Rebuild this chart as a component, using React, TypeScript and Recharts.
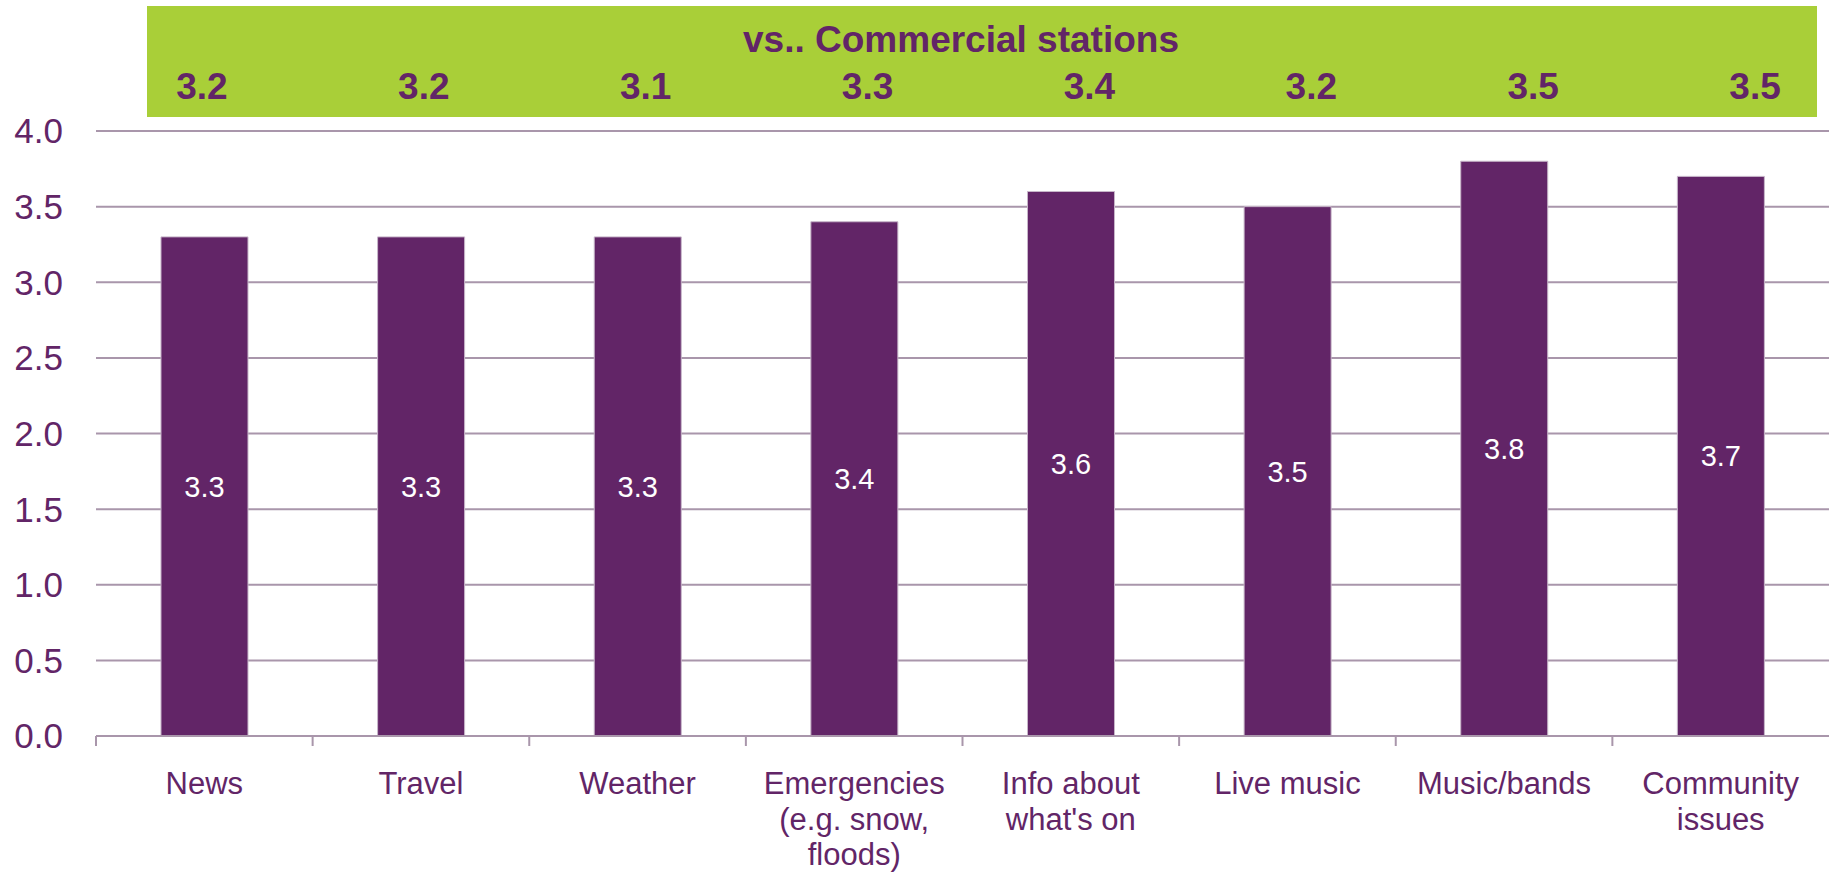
import { BarChart, Bar, XAxis, YAxis, CartesianGrid, LabelList } from "recharts";

const categories = [
  "News",
  "Travel",
  "Weather",
  "Emergencies\n(e.g. snow,\nfloods)",
  "Info about\nwhat's on",
  "Live music",
  "Music/bands",
  "Community\nissues",
];
const localScores = [3.3, 3.3, 3.3, 3.4, 3.6, 3.5, 3.8, 3.7];
const commercialScores = [3.2, 3.2, 3.1, 3.3, 3.4, 3.2, 3.5, 3.5];
const yTicks = [0, 0.5, 1, 1.5, 2, 2.5, 3, 3.5, 4];
const boxTitle = "vs.. Commercial stations";

const PURPLE = "#622567";
const GREEN = "#A9CF38";
const GRID = "#A996AB";
const FONT = "'Liberation Sans', Arial, sans-serif";

const data = categories.map((category, i) => ({
  category,
  local: localScores[i],
  commercial: commercialScores[i],
}));

// bottom axis: wrapped label + tick mark on the left edge of each band
function CategoryTick(props: any) {
  const { x, y, payload } = props;
  const half = payload.offset ?? 108;
  const lines = String(payload.value).split("\n");
  return (
    <g>
      <line x1={x - half} x2={x - half} y1={y} y2={y + 10} stroke={GRID} strokeWidth={2} />
      <text x={x} y={y + 58} textAnchor="middle" fill={PURPLE} fontSize={31} fontFamily={FONT}>
        {lines.map((line, i) => (
          <tspan key={i} x={x} dy={i === 0 ? 0 : 35.5}>
            {line}
          </tspan>
        ))}
      </text>
    </g>
  );
}

// top axis: commercial station score in the green band
function CommercialTick(props: any) {
  const { x, y, index } = props;
  return (
    <text x={x} y={y - 32} textAnchor="middle" fill={PURPLE} fontSize={37} fontWeight="bold" fontFamily={FONT}>
      {commercialScores[index].toFixed(1)}
    </text>
  );
}

export default function App() {
  return (
    <div style={{ position: "absolute", left: 0, top: 0, width: 1829, height: 872, fontFamily: FONT }}>
      <svg width={1829} height={872} style={{ position: "absolute", left: 0, top: 0 }}>
        <rect x={147} y={6} width={1670} height={111} fill={GREEN} />
        <text x={961} y={52} textAnchor="middle" fill={PURPLE} fontSize={37} fontWeight="bold" fontFamily={FONT}>
          {boxTitle}
        </text>
      </svg>
      <div style={{ position: "relative" }}>
        <BarChart
          width={1829}
          height={872}
          data={data}
          margin={{ top: 91, right: 0, bottom: 0, left: 0 }}
          barCategoryGap="30%"
        >
          <CartesianGrid vertical={false} stroke={GRID} strokeWidth={2} yAxisId="y" xAxisId="bottom" />
          <XAxis
            xAxisId="top"
            orientation="top"
            dataKey="category"
            height={40}
            axisLine={false}
            tickLine={false}
            tickSize={0}
            tickMargin={0}
            padding={{ left: -5, right: -37 }}
            tick={<CommercialTick />}
            interval={0}
          />
          <XAxis
            xAxisId="bottom"
            dataKey="category"
            height={136}
            axisLine={{ stroke: GRID, strokeWidth: 2 }}
            tickLine={false}
            tickSize={0}
            tickMargin={0}
            tick={<CategoryTick />}
            interval={0}
          />
          <YAxis
            yAxisId="y"
            domain={[0, 4]}
            ticks={yTicks}
            width={96}
            axisLine={false}
            tickLine={false}
            tickSize={0}
            tickMargin={33}
            tickFormatter={(v: number) => v.toFixed(1)}
            tick={{ fill: PURPLE, fontSize: 35, fontFamily: FONT }}
          />
          <Bar
            dataKey="local"
            xAxisId="bottom"
            yAxisId="y"
            fill={PURPLE}
            stroke="#C7B6C9"
            strokeWidth={1}
            isAnimationActive={false}
          >
            <LabelList
              dataKey="local"
              position="center"
              fill="#FFFFFF"
              fontSize={29}
              fontFamily={FONT}
              formatter={(v: any) => Number(v).toFixed(1)}
            />
          </Bar>
        </BarChart>
      </div>
    </div>
  );
}
